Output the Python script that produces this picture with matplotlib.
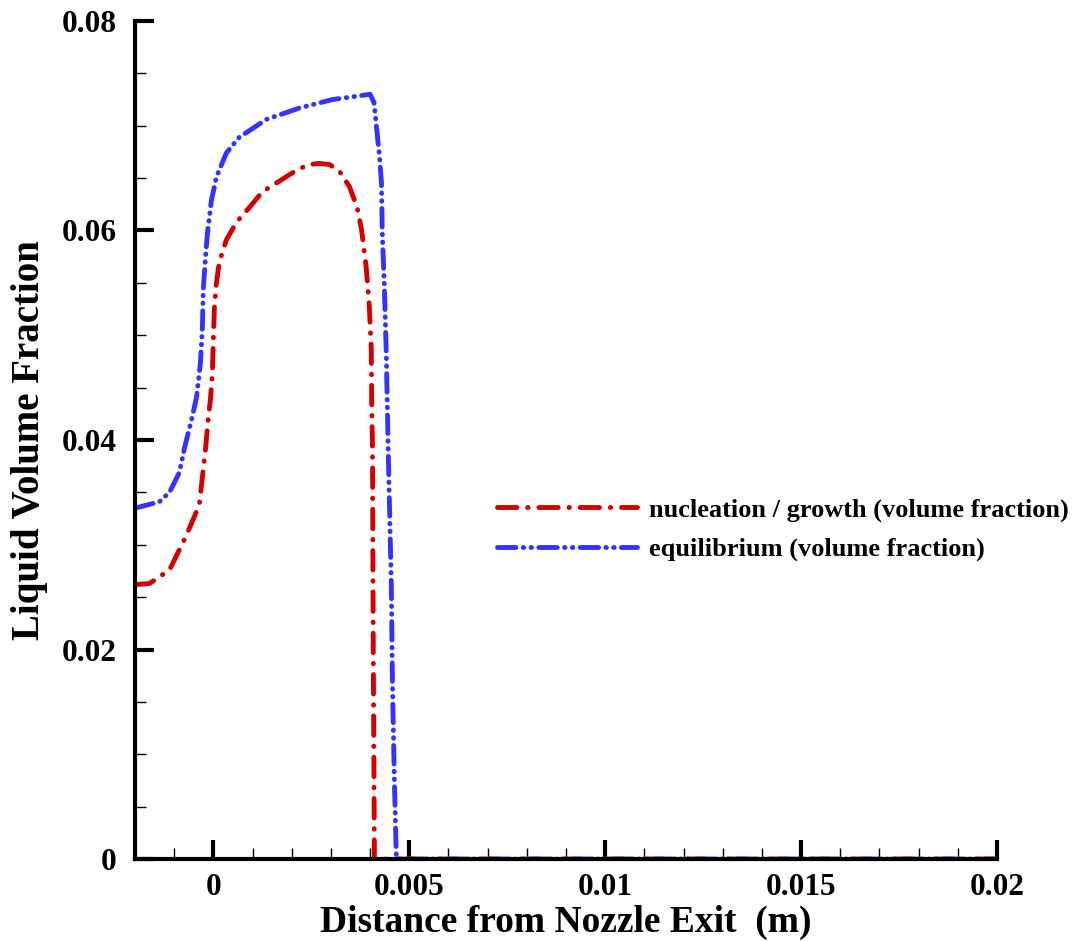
import matplotlib
matplotlib.use("Agg")
import matplotlib.pyplot as plt
from matplotlib.ticker import MultipleLocator, FuncFormatter

# Data (x in m, y = liquid volume fraction)
nuc_x = [-0.002, -0.00163, -0.00112, -0.00069, -0.00036, -0.0002, -0.000128, -0.000077,
         -0.000026, 0.0, 0.000026, 0.000077, 0.000153, 0.00033, 0.00059, 0.00092, 0.00125,
         0.00168, 0.00214, 0.00245, 0.0027, 0.00296, 0.00321, 0.00347, 0.00367, 0.00378,
         0.0039, 0.00398, 0.00403, 0.00404, 0.00406, 0.00408, 0.00411, 0.0045, 0.01, 0.02]
nuc_y = [0.0262, 0.0263, 0.0276, 0.0309, 0.0338, 0.0392, 0.0422, 0.0438,
         0.0464, 0.0498, 0.0527, 0.0550, 0.0570, 0.0591, 0.0608, 0.0622, 0.0637,
         0.0647, 0.0658, 0.0663, 0.0664, 0.0663, 0.0657, 0.0642, 0.0622, 0.0601,
         0.0565, 0.0527, 0.0486, 0.0438, 0.0393, 0.0200, 0.0, 0.0, 0.0, 0.0]

eq_x = [-0.002, -0.00138, -0.00112, -0.00087, -0.00074, -0.00054, -0.00043, -0.00033,
        -0.00028, -0.00026, -0.0002, -0.00015, -0.00005, 0.000077, 0.00033, 0.00066,
        0.00135, 0.0022, 0.00304, 0.0040, 0.0041, 0.00424, 0.00429, 0.00431, 0.00436,
        0.00441, 0.00446, 0.00454, 0.00457, 0.00462, 0.00467, 0.005, 0.01, 0.02]
eq_y = [0.0335, 0.0341, 0.0350, 0.0369, 0.0392, 0.0422, 0.0441, 0.0474,
        0.0508, 0.0543, 0.0575, 0.0598, 0.0629, 0.0651, 0.0674, 0.0689,
        0.0706, 0.0717, 0.0725, 0.0730, 0.0722, 0.0670, 0.0645, 0.0598, 0.0550,
        0.0486, 0.0393, 0.0263, 0.0168, 0.0073, 0.0, 0.0, 0.0, 0.0]

labels = ["nucleation / growth (volume fraction)", "equilibrium (volume fraction)"]

plt.rcParams['font.family'] = ['Liberation Serif', 'DejaVu Serif']
plt.rcParams['font.weight'] = 'bold'

fig = plt.figure(figsize=(10.76, 9.41), dpi=100)
ax = fig.add_axes([0.1255, 0.0871, 0.8011, 0.8906])

ax.plot(nuc_x, nuc_y, color='#d40000', lw=3.5, ls=(0, (4, 2.2, 0.1, 2.2)),
        dash_capstyle='round', solid_joinstyle='round', label=labels[0])
ax.plot(eq_x, eq_y, color='#3333ff', lw=3.5, ls=(0, (3.8, 1.5, 0.1, 1.5, 0.1, 1.5)),
        dash_capstyle='round', solid_joinstyle='round', label=labels[1])

ax.set_xlim(-0.002, 0.02)
ax.set_ylim(0, 0.08)

for s in ['top', 'right']:
    ax.spines[s].set_visible(False)
for s in ['left', 'bottom']:
    ax.spines[s].set_linewidth(3)

ax.xaxis.set_major_locator(MultipleLocator(0.005))
ax.xaxis.set_minor_locator(MultipleLocator(0.001))
ax.yaxis.set_major_locator(MultipleLocator(0.02))
ax.yaxis.set_minor_locator(MultipleLocator(0.005))

def fmt(v, pos):
    if abs(v) < 1e-12:
        return "0"
    return ("%g" % round(v, 6))

ax.xaxis.set_major_formatter(FuncFormatter(fmt))
ax.yaxis.set_major_formatter(FuncFormatter(fmt))

ax.tick_params(which='major', direction='in', length=14, width=3, labelsize=22.5)
ax.tick_params(which='minor', direction='in', length=8, width=1)
ax.tick_params(axis='y', which='major', pad=13)
ax.tick_params(axis='x', which='major', pad=10)
for lab in ax.get_xticklabels() + ax.get_yticklabels():
    lab.set_fontweight('bold')

ax.set_xlabel("Distance from Nozzle Exit  (m)", fontsize=27, fontweight='bold', labelpad=2)
ax.set_ylabel("Liquid Volume Fraction", fontsize=28, fontweight='bold', labelpad=10)

leg = ax.legend(loc='center left', bbox_to_anchor=(0.42, 0.393), frameon=False,
                fontsize=19, handlelength=5.3, handletextpad=0.45, labelspacing=0.6,
                borderpad=0, borderaxespad=0)
for t in leg.get_texts():
    t.set_fontweight('bold')

fig.savefig("out.png", dpi=100)
